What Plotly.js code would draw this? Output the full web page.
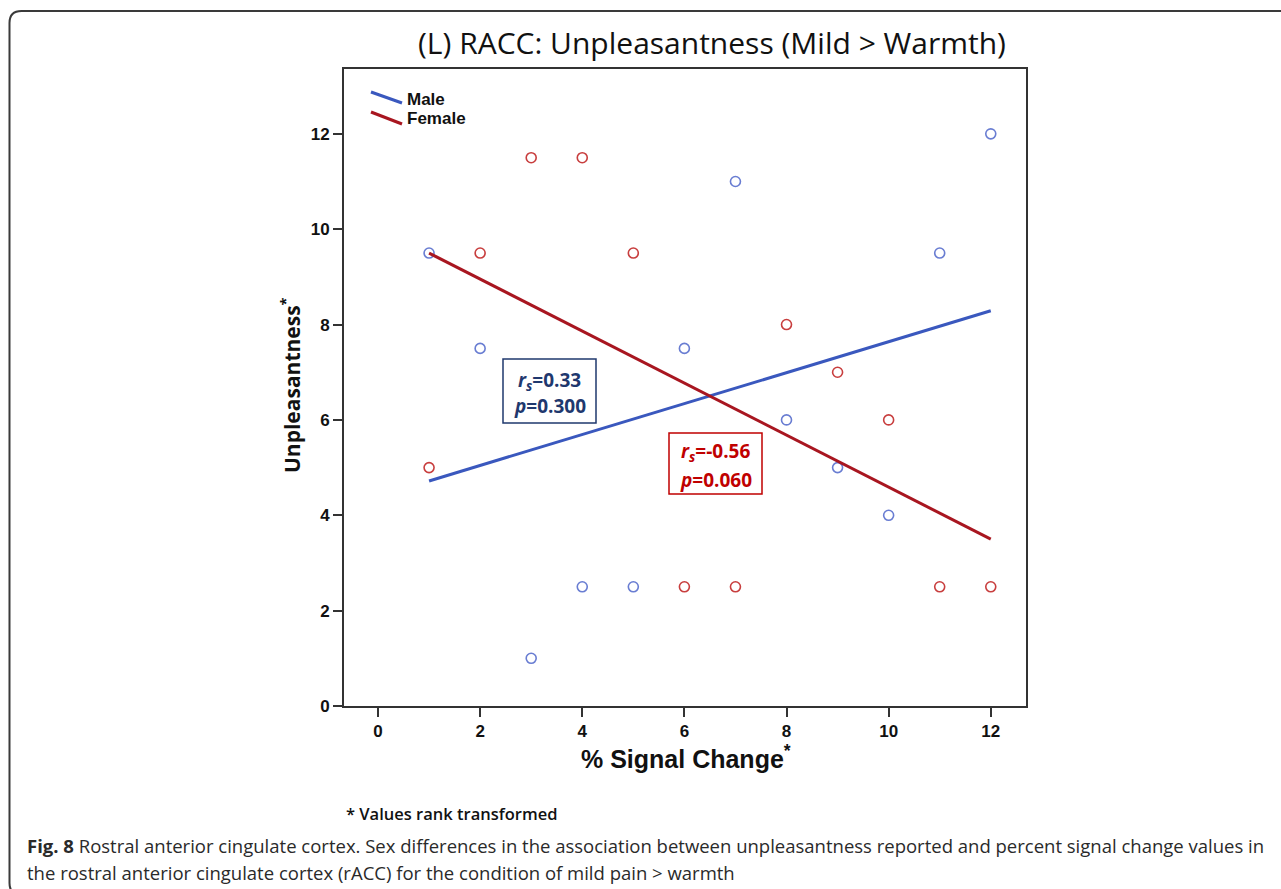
<!DOCTYPE html>
<html>
<head>
<meta charset="utf-8">
<script src="https://cdn.plot.ly/plotly-3.0.1.min.js"></script>
<style>
  html, body { margin: 0; padding: 0; background: #ffffff; }
  #chart { width: 1281px; height: 889px; }
</style>
</head>
<body>
<div id="chart"></div>
<script>
// ---- Data (values rank transformed) ----
const signalChange = [1, 2, 3, 4, 5, 6, 7, 8, 9, 10, 11, 12];
const maleUnpleasantness = [9.5, 7.5, 1, 2.5, 2.5, 7.5, 11, 6, 5, 4, 9.5, 12];
const femaleUnpleasantness = [5, 9.5, 11.5, 11.5, 9.5, 2.5, 2.5, 8, 7, 6, 2.5, 2.5];
const fitX = [1, 12];
const maleFit = [4.72, 8.29];
const femaleFit = [9.5, 3.5];
const xTicks = [0, 2, 4, 6, 8, 10, 12];
const yTicks = [0, 2, 4, 6, 8, 10, 12];
const seriesNames = ["Male", "Female"];
const maleStats = { rs: "0.33", p: "0.300" };
const femaleStats = { rs: "-0.56", p: "0.060" };

// ---- Geometry helpers (pixel -> paper) ----
const W = 1281, H = 889;
const M = { l: 344, r: 255, t: 69, b: 183 };
const PW = W - M.l - M.r, PH = H - M.t - M.b;
const px = p => (p - M.l) / PW;
const py = p => (H - M.b - p) / PH;

const maleLine = "rgb(58,88,190)";
const maleMarker = "rgb(105,125,210)";
const femaleLine = "rgb(168,22,32)";
const femaleMarker = "rgb(200,62,62)";
const navy = "rgb(31,56,110)";
const red = "rgb(192,0,0)";

const sans = "Liberation Sans, Arial, sans-serif";
const open = "Open Sans, Noto Sans, sans-serif";

const traces = [
  { x: signalChange, y: maleUnpleasantness, type: "scatter", mode: "markers", name: seriesNames[0],
    marker: { symbol: "circle-open", size: 10, color: maleMarker, line: { width: 1.6, color: maleMarker } },
    showlegend: false, hoverinfo: "x+y" },
  { x: signalChange, y: femaleUnpleasantness, type: "scatter", mode: "markers", name: seriesNames[1],
    marker: { symbol: "circle-open", size: 10, color: femaleMarker, line: { width: 1.6, color: femaleMarker } },
    showlegend: false, hoverinfo: "x+y" },
  { x: fitX, y: maleFit, type: "scatter", mode: "lines", name: seriesNames[0] + " fit",
    line: { color: maleLine, width: 3 }, showlegend: false, hoverinfo: "skip" },
  { x: fitX, y: femaleFit, type: "scatter", mode: "lines", name: seriesNames[1] + " fit",
    line: { color: femaleLine, width: 3 }, showlegend: false, hoverinfo: "skip" }
];

// Rounded figure frame path (in paper coords)
function framePath() {
  const x0 = 9.5, y0 = 11, x1 = 1295, y1 = 895, r = 12;
  const X = v => px(v).toFixed(5), Y = v => py(v).toFixed(5);
  return `M ${X(x0)},${Y(y1 - r)} L ${X(x0)},${Y(y0 + r)} Q ${X(x0)},${Y(y0)} ${X(x0 + r)},${Y(y0)} ` +
         `L ${X(x1)},${Y(y0)} L ${X(x1)},${Y(y1)} L ${X(x0 + r)},${Y(y1)} Q ${X(x0)},${Y(y1)} ${X(x0)},${Y(y1 - r)} Z`;
}

const shapes = [
  { type: "path", xref: "paper", yref: "paper", path: framePath(), line: { color: "#3a3a3a", width: 2 }, layer: "below" },
  // legend symbols (slanted SPSS-style)
  { type: "line", xref: "paper", yref: "paper", x0: px(371), y0: py(92), x1: px(402), y1: py(103),
    line: { color: maleLine, width: 3 } },
  { type: "line", xref: "paper", yref: "paper", x0: px(371), y0: py(112), x1: px(402), y1: py(124),
    line: { color: femaleLine, width: 3 } },
  // stats boxes
  { type: "rect", xref: "paper", yref: "paper", x0: px(503), y0: py(359), x1: px(596), y1: py(423),
    line: { color: navy, width: 1.5 }, fillcolor: "rgba(255,255,255,1)" },
  { type: "rect", xref: "paper", yref: "paper", x0: px(669), y0: py(433), x1: px(762), y1: py(494),
    line: { color: red, width: 1.5 }, fillcolor: "rgba(255,255,255,1)" }
];

function ann(text, x, y, opts) {
  return Object.assign({ text: text, xref: "paper", yref: "paper", x: px(x), y: py(y),
    showarrow: false, xanchor: "center", yanchor: "middle" }, opts || {});
}

const boxFontM = { family: open, size: 19, weight: 700, color: navy };
const boxFontF = { family: open, size: 19, weight: 700, color: red };

const annotations = [
  ann("(L) RACC: Unpleasantness (Mild &gt; Warmth)", 712, 42,
      { font: { family: open, size: 30, color: "#111" } }),
  ann("Unpleasantness<sup>*</sup>", 290, 385,
      { textangle: -90, font: { family: open, size: 21, weight: 700, color: "#111" } }),
  ann("% Signal Change<sup>*</sup>", 686, 757,
      { font: { family: sans, size: 25, weight: 700, color: "#111" } }),
  ann(seriesNames[0], 405, 100, { xanchor: "left", font: { family: sans, size: 17, weight: 700, color: "#111" } }),
  ann(seriesNames[1], 405, 119, { xanchor: "left", font: { family: sans, size: 17, weight: 700, color: "#111" } }),
  ann("<i>r<sub>s</sub></i>=" + maleStats.rs, 549.5, 381, { font: boxFontM }),
  ann("<i>p</i>=" + maleStats.p, 549.5, 406, { font: boxFontM }),
  ann("<i>r<sub>s</sub></i>=" + femaleStats.rs, 715.5, 452, { font: boxFontF }),
  ann("<i>p</i>=" + femaleStats.p, 715.5, 480, { font: boxFontF }),
  ann("* Values rank transformed", 451, 813,
      { font: { family: open, size: 16.5, weight: 600, color: "#111" } }),
  ann("<b>Fig. 8</b> Rostral anterior cingulate cortex. Sex differences in the association between unpleasantness reported and percent signal change values in",
      25, 845, { xanchor: "left", font: { family: open, size: 18.5, color: "#2a2a2a" } }),
  ann("the rostral anterior cingulate cortex (rACC) for the condition of mild pain &gt; warmth",
      25, 872, { xanchor: "left", font: { family: open, size: 18.5, color: "#2a2a2a" } })
];

const layout = {
  width: W, height: H,
  margin: M,
  paper_bgcolor: "#ffffff",
  plot_bgcolor: "#ffffff",
  showlegend: false,
  xaxis: {
    range: [-0.666, 12.69], tickvals: xTicks, ticktext: xTicks.map(String),
    showgrid: false, zeroline: false,
    showline: true, mirror: true, linecolor: "#333", linewidth: 2,
    ticks: "outside", ticklen: 9, tickwidth: 2, tickcolor: "#333",
    tickfont: { family: sans, size: 17, weight: 700, color: "#111" }
  },
  yaxis: {
    range: [0, 13.36], tickvals: yTicks, ticktext: yTicks.map(String),
    showgrid: false, zeroline: false,
    showline: true, mirror: true, linecolor: "#333", linewidth: 2,
    ticks: "outside", ticklen: 9, tickwidth: 2, tickcolor: "#333",
    tickfont: { family: sans, size: 17, weight: 700, color: "#111" }
  },
  shapes: shapes,
  annotations: annotations
};

Plotly.newPlot("chart", traces, layout, { displayModeBar: false, staticPlot: true });
</script>
</body>
</html>
